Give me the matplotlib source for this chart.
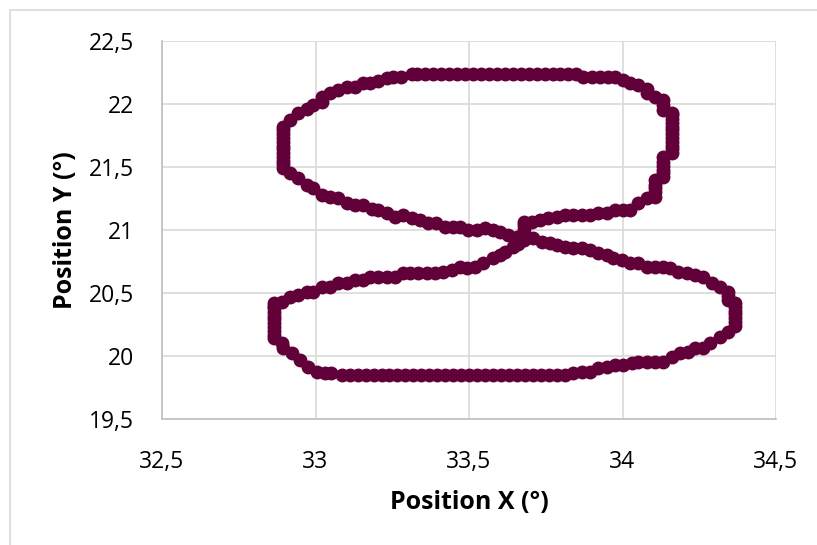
import matplotlib
matplotlib.use("Agg")
import matplotlib.pyplot as plt
from matplotlib.ticker import FuncFormatter, MultipleLocator
from matplotlib.patches import Rectangle

# ---- data (degrees), traced along the figure-eight path ----
pos_x = [
    # crossing, upward then upper loop lower-right edge
    33.68, 33.68, 33.68, 33.68, 33.68, 33.68,
    33.704, 33.731, 33.758, 33.786, 33.813, 33.840, 33.867, 33.894, 33.921, 33.948,
    33.976, 34.003, 34.024, 34.052, 34.079, 34.106,
    34.106, 34.106, 34.106, 34.106,
    34.133, 34.133, 34.133, 34.133, 34.133, 34.133,
    34.160, 34.160, 34.160, 34.160, 34.160, 34.160, 34.160, 34.160, 34.160, 34.160, 34.160, 34.160,
    34.133, 34.133, 34.133, 34.106, 34.079, 34.079, 34.052, 34.024, 34.003, 33.976,
    33.954, 33.927, 33.900, 33.872,
    # top row
    33.850, 33.824, 33.798, 33.772, 33.746, 33.720, 33.694, 33.668, 33.642, 33.616,
    33.590, 33.564, 33.538, 33.512, 33.486, 33.460, 33.434, 33.408, 33.382, 33.356,
    33.330, 33.313,
    # top-left curve
    33.280, 33.253, 33.232, 33.204, 33.177, 33.156, 33.128, 33.101, 33.074, 33.047,
    33.020, 33.020, 32.993, 32.971, 32.944, 32.917, 32.895,
    # left side upper loop
    32.893, 32.893, 32.893, 32.893, 32.893, 32.893, 32.893, 32.893, 32.893, 32.893, 32.893,
    # upper loop lower edge toward crossing
    32.917, 32.944, 32.971, 32.993, 33.020, 33.047, 33.074, 33.101, 33.128, 33.156,
    33.183, 33.204, 33.232, 33.259, 33.286, 33.313, 33.340, 33.367, 33.394, 33.422,
    33.449, 33.470, 33.498, 33.525, 33.552, 33.579, 33.601, 33.628, 33.655,
    # lower loop upper-right edge
    33.682, 33.710, 33.737, 33.764, 33.786, 33.813, 33.840, 33.867, 33.894, 33.921,
    33.948, 33.970, 33.997, 34.024, 34.052, 34.079, 34.106, 34.133, 34.155, 34.182,
    34.209, 34.236, 34.263, 34.290, 34.318, 34.345, 34.345, 34.345,
    # right side lower loop
    34.367, 34.367, 34.367, 34.367, 34.367, 34.367, 34.367,
    # lower-right curve
    34.345, 34.318, 34.285, 34.263, 34.236, 34.214, 34.187, 34.160, 34.133, 34.106,
    34.079, 34.052, 34.030, 34.003, 33.976, 33.948, 33.921, 33.894, 33.867, 33.840,
    # bottom row
    33.813, 33.787, 33.761, 33.735, 33.709, 33.683, 33.657, 33.631, 33.605, 33.579,
    33.553, 33.527, 33.501, 33.475, 33.449, 33.423, 33.397, 33.371, 33.345, 33.319,
    33.293, 33.267, 33.241, 33.215, 33.189, 33.163, 33.137, 33.111, 33.085,
    # lower-left curve
    33.052, 33.031, 33.004, 32.976, 32.949, 32.922, 32.895, 32.890,
    # left side lower loop
    32.865, 32.865, 32.865, 32.865, 32.865, 32.865, 32.865, 32.865, 32.865, 32.865, 32.865,
    # lower loop upper-left edge back to crossing
    32.890, 32.917, 32.944, 32.971, 32.993, 33.020, 33.047, 33.074, 33.101, 33.128,
    33.156, 33.177, 33.204, 33.232, 33.259, 33.286, 33.308, 33.335, 33.362, 33.389,
    33.416, 33.443, 33.470, 33.492, 33.519, 33.547, 33.579, 33.600, 33.617, 33.644,
    33.660, 33.677,
]

pos_y = [
    20.92, 20.95, 20.98, 21.01, 21.04, 21.06,
    21.067, 21.080, 21.093, 21.106, 21.120, 21.120, 21.120, 21.120, 21.133, 21.133,
    21.159, 21.159, 21.159, 21.212, 21.252, 21.265,
    21.300, 21.330, 21.360, 21.397,
    21.424, 21.450, 21.480, 21.510, 21.540, 21.582,
    21.609, 21.640, 21.670, 21.700, 21.730, 21.760, 21.790, 21.820, 21.850, 21.880, 21.910, 21.930,
    21.953, 21.990, 22.032, 22.059, 22.085, 22.120, 22.151, 22.170, 22.190, 22.217,
    22.217, 22.212, 22.212, 22.212,
    22.240, 22.240, 22.240, 22.240, 22.240, 22.240, 22.240, 22.240, 22.240, 22.240,
    22.240, 22.240, 22.240, 22.240, 22.240, 22.240, 22.240, 22.240, 22.240, 22.240,
    22.240, 22.240,
    22.212, 22.212, 22.204, 22.186, 22.164, 22.170, 22.138, 22.138, 22.111, 22.090,
    22.059, 22.019, 21.993, 21.958, 21.926, 21.873, 21.820,
    21.790, 21.760, 21.730, 21.700, 21.670, 21.640, 21.610, 21.580, 21.550, 21.520, 21.490,
    21.450, 21.410, 21.358, 21.331, 21.278, 21.265, 21.252, 21.212, 21.199, 21.199,
    21.164, 21.159, 21.133, 21.106, 21.120, 21.093, 21.080, 21.053, 21.053, 21.027,
    21.027, 21.027, 21.000, 21.000, 21.014, 21.000, 20.987, 20.961, 20.947,
    20.947, 20.934, 20.907, 20.894, 20.881, 20.867, 20.854, 20.854, 20.841, 20.815,
    20.801, 20.775, 20.762, 20.735, 20.735, 20.709, 20.709, 20.709, 20.695, 20.669,
    20.656, 20.642, 20.629, 20.576, 20.550, 20.510, 20.480, 20.444,
    20.418, 20.390, 20.360, 20.330, 20.300, 20.270, 20.240,
    20.193, 20.153, 20.100, 20.060, 20.060, 20.034, 20.021, 19.994, 19.955, 19.955,
    19.955, 19.955, 19.941, 19.928, 19.928, 19.915, 19.902, 19.875, 19.875, 19.862,
    19.849, 19.849, 19.849, 19.849, 19.849, 19.849, 19.849, 19.849, 19.849, 19.849,
    19.849, 19.849, 19.849, 19.849, 19.849, 19.849, 19.849, 19.849, 19.849, 19.849,
    19.849, 19.849, 19.849, 19.849, 19.849, 19.849, 19.849, 19.849, 19.849,
    19.862, 19.862, 19.875, 19.915, 19.968, 20.021, 20.060, 20.100,
    20.140, 20.170, 20.200, 20.230, 20.260, 20.290, 20.320, 20.350, 20.380, 20.400, 20.418,
    20.431, 20.471, 20.484, 20.510, 20.510, 20.550, 20.550, 20.576, 20.576, 20.603,
    20.603, 20.629, 20.629, 20.629, 20.629, 20.656, 20.656, 20.656, 20.656, 20.656,
    20.669, 20.682, 20.709, 20.695, 20.709, 20.735, 20.775, 20.800, 20.828, 20.867,
    20.890, 20.920,
]

x_label = "Position X (°)"
y_label = "Position Y (°)"
x_limits = (32.5, 34.5)
y_limits = (19.5, 22.5)

marker_color = "#610039"
grid_color = "#D9D9D9"

plt.rcParams['font.family'] = ['Open Sans', 'DejaVu Sans']

fig = plt.figure(figsize=(8.17, 5.45), dpi=100)
W, H = 817, 545

# outer chart border
fig.patches.append(Rectangle((10 / W, -0.1), 1.2, (H - 10) / H + 0.1,
                             transform=fig.transFigure, fill=False,
                             edgecolor=grid_color, linewidth=1.2))

ax = fig.add_axes([162 / W, (H - 419) / H, 614 / W, 378 / H])
ax.plot(pos_x, pos_y, linestyle='none', marker='o', markersize=10,
        color=marker_color, markeredgewidth=0, zorder=3)

ax.set_xlim(*x_limits)
ax.set_ylim(*y_limits)
ax.xaxis.set_major_locator(MultipleLocator(0.5))
ax.yaxis.set_major_locator(MultipleLocator(0.5))
fmt = FuncFormatter(lambda v, p: ('%g' % round(v, 3)).replace('.', ','))
ax.xaxis.set_major_formatter(fmt)
ax.yaxis.set_major_formatter(fmt)

ax.grid(True, color=grid_color, linewidth=1.2, zorder=0)
ax.set_axisbelow(True)
for side in ['top', 'right']:
    ax.spines[side].set_visible(False)
for side in ['left', 'bottom']:
    ax.spines[side].set_color('#BFBFBF')
    ax.spines[side].set_linewidth(1.2)

ax.tick_params(length=0, labelsize=16.5, colors='#000000', pad=20)
ax.tick_params(axis='x', pad=22)

ax.set_xlabel(x_label, fontsize=18, fontweight='bold', labelpad=12)
ax.set_ylabel(y_label, fontsize=18, fontweight='bold', labelpad=8)

fig.savefig("out.png", dpi=100)
